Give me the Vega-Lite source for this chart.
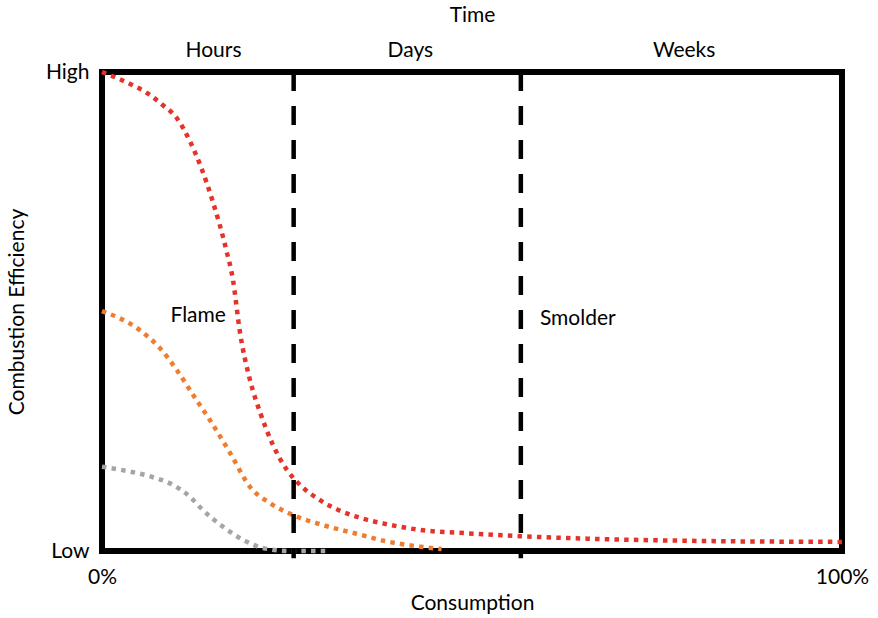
{
  "$schema": "https://vega.github.io/schema/vega-lite/v6.json",
  "width": 740,
  "height": 479,
  "autosize": {"type": "none"},
  "padding": {"left": 102, "top": 72, "right": 36, "bottom": 67},
  "background": "white",
  "config": {"view": {"stroke": null}, "font": "Lato"},
  "datasets": {
    "curves": [
      {"series": "high", "x": 0, "y": 100},
      {"series": "high", "x": 3.8, "y": 97.5},
      {"series": "high", "x": 6.1, "y": 95.6},
      {"series": "high", "x": 8.2, "y": 93.1},
      {"series": "high", "x": 10.1, "y": 90.4},
      {"series": "high", "x": 11.9, "y": 85.5},
      {"series": "high", "x": 14.9, "y": 73.3},
      {"series": "high", "x": 16.8, "y": 62.8},
      {"series": "high", "x": 17.7, "y": 56.6},
      {"series": "high", "x": 18.6, "y": 46.1},
      {"series": "high", "x": 20, "y": 35.7},
      {"series": "high", "x": 21.4, "y": 28.8},
      {"series": "high", "x": 23, "y": 22.5},
      {"series": "high", "x": 25, "y": 16.9},
      {"series": "high", "x": 26.5, "y": 14.2},
      {"series": "high", "x": 29.9, "y": 10.2},
      {"series": "high", "x": 34.5, "y": 7.1},
      {"series": "high", "x": 38.5, "y": 5.6},
      {"series": "high", "x": 43, "y": 4.4},
      {"series": "high", "x": 49.3, "y": 3.7},
      {"series": "high", "x": 56.5, "y": 3.1},
      {"series": "high", "x": 67.3, "y": 2.5},
      {"series": "high", "x": 80.8, "y": 2.1},
      {"series": "high", "x": 100, "y": 1.9},
      {"series": "medium", "x": 0, "y": 50.1},
      {"series": "medium", "x": 5.1, "y": 46.1},
      {"series": "medium", "x": 7.8, "y": 42.4},
      {"series": "medium", "x": 10.1, "y": 37.8},
      {"series": "medium", "x": 12.3, "y": 32.6},
      {"series": "medium", "x": 14.6, "y": 27.3},
      {"series": "medium", "x": 17.3, "y": 20.5},
      {"series": "medium", "x": 20, "y": 13.4},
      {"series": "medium", "x": 22.7, "y": 10},
      {"series": "medium", "x": 25.8, "y": 7.5},
      {"series": "medium", "x": 29.9, "y": 5.4},
      {"series": "medium", "x": 34.4, "y": 3.6},
      {"series": "medium", "x": 38.5, "y": 2.0},
      {"series": "medium", "x": 43, "y": 0.9},
      {"series": "medium", "x": 45.9, "y": 0.4},
      {"series": "low", "x": 0, "y": 17.6},
      {"series": "low", "x": 3.4, "y": 16.7},
      {"series": "low", "x": 6.9, "y": 15.4},
      {"series": "low", "x": 9.6, "y": 13.8},
      {"series": "low", "x": 11.9, "y": 11.3},
      {"series": "low", "x": 13.6, "y": 8.6},
      {"series": "low", "x": 16.4, "y": 5},
      {"series": "low", "x": 19.1, "y": 2.3},
      {"series": "low", "x": 21.8, "y": 0.6},
      {"series": "low", "x": 25.4, "y": 0},
      {"series": "low", "x": 30.4, "y": 0}
    ],
    "dividers": [{"x": 25.9}, {"x": 56.6}],
    "labels": [
      {"label": "Flame", "x": 13.0, "y": 49.1},
      {"label": "Smolder", "x": 64.3, "y": 48.4}
    ]
  },
  "layer": [
    {
      "data": {"values": [{"x0": 0, "x1": 100, "y0": 0, "y1": 100}]},
      "mark": {"type": "rect", "fill": null, "stroke": "black", "strokeWidth": 6},
      "encoding": {
        "x": {"field": "x0", "type": "quantitative", "scale": {"domain": [0, 100], "nice": false, "zero": false},
          "axis": {"orient": "bottom", "values": [0, 100], "labelExpr": "datum.value == 0 ? '0%' : '100%'",
            "title": "Consumption", "domain": false, "ticks": false, "tickSize": 0, "grid": false,
            "labelFlush": false, "labelFontSize": 21, "labelColor": "black", "labelPadding": 15,
            "titleFontSize": 21, "titleFontWeight": "normal", "titleColor": "black", "titlePadding": 5}},
        "x2": {"field": "x1"},
        "y": {"field": "y0", "type": "quantitative", "scale": {"domain": [0, 100], "nice": false, "zero": false},
          "axis": {"orient": "left", "values": [0, 100], "labelExpr": "datum.value == 0 ? 'Low' : 'High'",
            "title": "Combustion Efficiency", "domain": false, "ticks": false, "tickSize": 0, "grid": false,
            "labelFlush": false, "labelOverlap": false, "labelFontSize": 21, "labelColor": "black", "labelPadding": 13,
            "titleFontSize": 21, "titleFontWeight": "normal", "titleColor": "black", "titlePadding": 18}},
        "y2": {"field": "y1"}
      }
    },
    {
      "data": {"name": "curves"},
      "mark": {"type": "line", "interpolate": "monotone", "strokeWidth": 4.5, "strokeDash": [4.5, 5.2], "strokeCap": "butt"},
      "encoding": {
        "x": {"field": "x", "type": "quantitative", "axis": null},
        "y": {"field": "y", "type": "quantitative", "axis": null},
        "color": {"field": "series", "type": "nominal",
          "scale": {"domain": ["low", "medium", "high"], "range": ["#A5A5A5", "#ED7D31", "#E5332A"]},
          "legend": null}
      }
    },
    {
      "data": {"name": "dividers"},
      "mark": {"type": "rule", "color": "black", "strokeWidth": 4.5, "strokeDash": [19, 15]},
      "encoding": {
        "x": {"field": "x", "type": "quantitative", "axis": null},
        "y": {"datum": 100, "type": "quantitative", "axis": null},
        "y2": {"datum": -1.5}
      }
    },
    {
      "data": {"name": "labels"},
      "mark": {"type": "text", "fontSize": 21, "color": "black", "align": "center", "baseline": "middle"},
      "encoding": {
        "x": {"field": "x", "type": "quantitative",
          "axis": {"orient": "top", "values": [15, 41.6, 78.6],
            "labelExpr": "datum.value < 20 ? 'Hours' : (datum.value < 50 ? 'Days' : 'Weeks')",
            "title": "Time", "domain": false, "ticks": false, "tickSize": 0, "grid": false,
            "labelFlush": false, "labelOverlap": false, "labelFontSize": 21, "labelColor": "black", "labelPadding": 12,
            "titleFontSize": 21, "titleFontWeight": "normal", "titleColor": "black", "titlePadding": 14}},
        "y": {"field": "y", "type": "quantitative", "axis": null},
        "text": {"field": "label"}
      }
    }
  ],
  "resolve": {"axis": {"x": "independent", "y": "independent"}}
}
